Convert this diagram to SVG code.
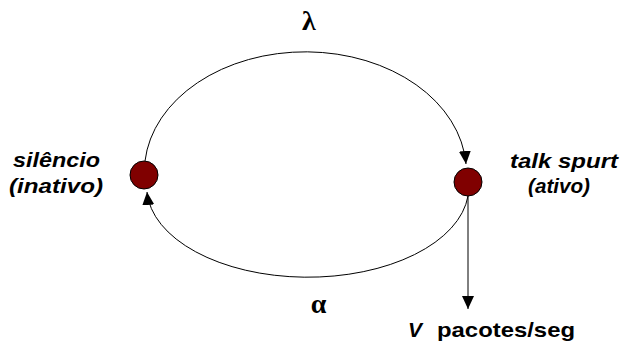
<svg xmlns="http://www.w3.org/2000/svg" width="624" height="343" viewBox="0 0 624 343">
<style>
.lbl{font-family:"Liberation Sans",Arial,sans-serif;font-weight:bold;font-style:italic;font-size:21px;fill:#000}
.greek{font-family:"Liberation Serif","DejaVu Serif",serif;font-weight:bold;font-size:28px;fill:#000}
.node{fill:#800000;stroke:#000;stroke-width:1}
.edge{fill:none;stroke:#000;stroke-width:1}
</style>
<defs>
<marker id="ah" markerWidth="14" markerHeight="12" refX="13" refY="6" orient="auto" markerUnits="userSpaceOnUse">
<path d="M0,0 L13,6 L0,12 Z" fill="#000"/>
</marker>
</defs>
<g id="connectors">
<path class="edge" d="M145,161 A161,120 0 0 1 466,164" marker-end="url(#ah)"/>
<path class="edge" d="M468,196 A161,90 0 0 1 147,192" marker-end="url(#ah)"/>
<line class="edge" x1="468" y1="196" x2="468" y2="309" marker-end="url(#ah)"/>
</g>
<g id="silencio">
<circle class="node" cx="144" cy="175" r="14"/>
<text class="lbl" x="13" y="167" textLength="87" lengthAdjust="spacingAndGlyphs">silêncio</text>
<text class="lbl" x="9" y="193" textLength="94" lengthAdjust="spacingAndGlyphs">(inativo)</text>
</g>
<g id="talkspurt">
<circle class="node" cx="468" cy="182" r="14"/>
<text class="lbl" x="510" y="168" textLength="108" lengthAdjust="spacingAndGlyphs">talk spurt</text>
<text class="lbl" x="528" y="193" textLength="62" lengthAdjust="spacingAndGlyphs">(ativo)</text>
</g>
<g id="labels">
<text class="greek" x="309" y="30" text-anchor="middle">λ</text>
<text class="greek" x="318.5" y="313" text-anchor="middle">α</text>
<text class="lbl" x="408" y="337"><tspan>V</tspan><tspan x="437" font-style="normal" textLength="138" lengthAdjust="spacingAndGlyphs">pacotes/seg</tspan></text>
</g>
</svg>
